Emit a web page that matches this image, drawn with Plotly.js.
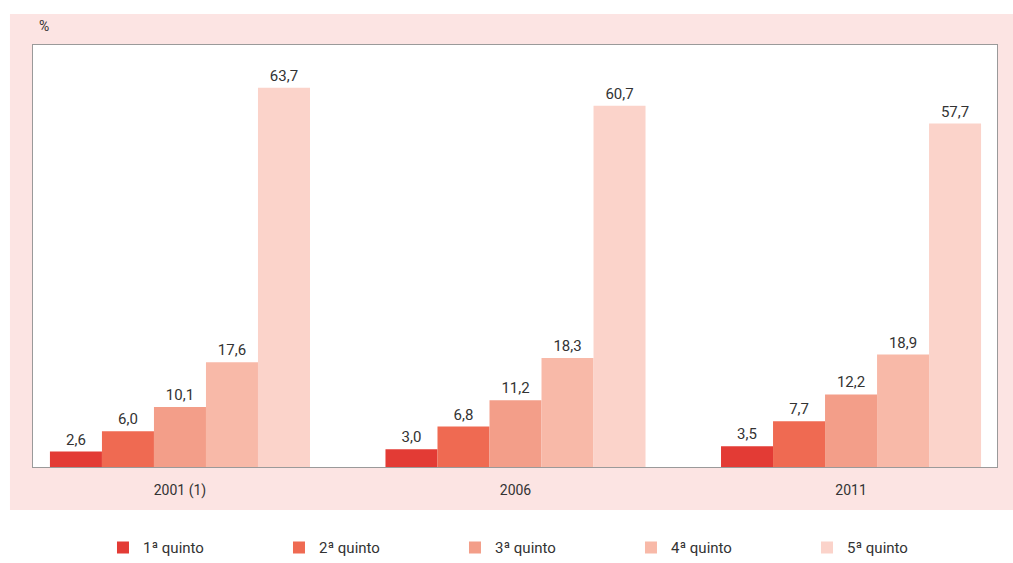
<!DOCTYPE html>
<html><head><meta charset="utf-8">
<script src="https://cdn.plot.ly/plotly-3.0.1.min.js"></script>
<style>html,body{margin:0;padding:0;background:#fff}#c{width:1013px;height:563px}</style>
</head><body><div id="c"></div>
<script>
const categories = ["2001 (1)", "2006", "2011"];
const seriesNames = ["1ª quinto", "2ª quinto", "3ª quinto", "4ª quinto", "5ª quinto"];
const q1 = [2.6, 3.0, 3.5];
const q2 = [6.0, 6.8, 7.7];
const q3 = [10.1, 11.2, 12.2];
const q4 = [17.6, 18.3, 18.9];
const q5 = [63.7, 60.7, 57.7];
const colors = ["#e33b35", "#ef6a52", "#f39e89", "#f8b9a8", "#fbd3ca"];

const values = [q1, q2, q3, q4, q5];
const traces = values.map((v, i) => ({
  type: "bar",
  name: seriesNames[i],
  x: categories,
  y: v,
  marker: {color: colors[i], line: {width: 0}},
  texttemplate: "%{y:.1f}",
  textposition: "outside",
  cliponaxis: false,
  textfont: {family: "Roboto, sans-serif", size: 15, color: "#333"},
  hoverinfo: "none"
}));

const layout = {
  width: 1013, height: 563,
  margin: {l: 33, r: 16, t: 45, b: 96, autoexpand: false},
  paper_bgcolor: "#ffffff",
  plot_bgcolor: "rgba(0,0,0,0)",
  separators: ",.",
  barmode: "group",
  bargap: 0.225,
  bargroupgap: 0,
  font: {family: "Roboto, sans-serif", color: "#333"},
  xaxis: {
    type: "category",
    range: [-0.438, 2.435],
    showline: true, mirror: true, linecolor: "#9a9a9a", linewidth: 1,
    ticks: "", showgrid: false, zeroline: false,
    tickfont: {size: 14, color: "#333"},
    ticklabelstandoff: 10
  },
  yaxis: {
    range: [0, 70.9],
    showline: true, mirror: true, linecolor: "#9a9a9a", linewidth: 1,
    showticklabels: false, ticks: "", showgrid: false, zeroline: false
  },
  shapes: [
    {type: "rect", xref: "paper", yref: "paper", x0: -0.0239, x1: 1.02, y0: -0.1019, y1: 1.0735,
     fillcolor: "#fce4e3", line: {width: 0}, layer: "below"},
    {type: "rect", xref: "paper", yref: "paper", x0: 0, x1: 1, y0: 0, y1: 1,
     fillcolor: "#ffffff", line: {width: 0}, layer: "below"}
  ],
  annotations: [
    {text: "%", xref: "paper", yref: "paper", x: 0.004, y: 1.045, xanchor: "left", yanchor: "middle",
     showarrow: false, font: {size: 14, color: "#333"}}
  ],
  legend: {
    orientation: "h", x: 0.0726, xanchor: "left", y: -0.152, yanchor: "top",
    entrywidth: 131, entrywidthmode: "pixels",
    font: {size: 15, color: "#333"}, bgcolor: "rgba(0,0,0,0)"
  },
  showlegend: true
};

Plotly.newPlot("c", traces, layout, {displayModeBar: false, staticPlot: true});
</script>
</body></html>
